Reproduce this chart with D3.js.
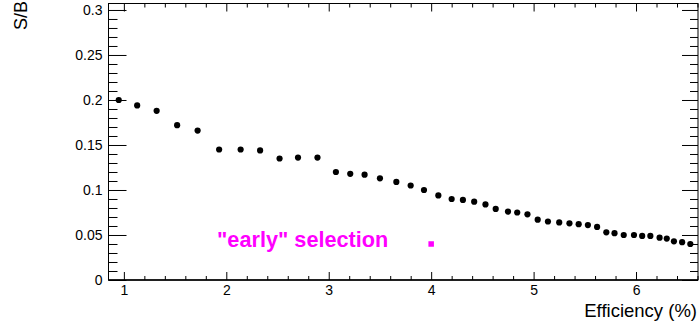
<!DOCTYPE html>
<html>
<head>
<meta charset="utf-8">
<script src="https://cdn.jsdelivr.net/npm/d3@7"></script>
<style>
  html, body { margin: 0; padding: 0; background: #fff; }
  svg { display: block; }
  text { font-family: "Liberation Sans", Arial, Helvetica, sans-serif; }
</style>
</head>
<body>
<svg id="chart" width="699" height="328"></svg>
<script>
// ---- data ----
const efficiency = [0.95, 1.13, 1.32, 1.52, 1.72, 1.93, 2.14, 2.33, 2.52, 2.70, 2.89,
  3.07, 3.21, 3.35, 3.50, 3.66, 3.80, 3.93, 4.07, 4.20, 4.31, 4.42, 4.53, 4.63, 4.75,
  4.84, 4.94, 5.04, 5.14, 5.25, 5.35, 5.44, 5.53, 5.62, 5.71, 5.79, 5.88, 5.98, 6.06,
  6.14, 6.23, 6.30, 6.37, 6.45, 6.53];
const sOverB = [0.200, 0.194, 0.188, 0.172, 0.166, 0.145, 0.145, 0.144, 0.135, 0.136, 0.136,
  0.120, 0.118, 0.117, 0.113, 0.109, 0.105, 0.100, 0.094, 0.090, 0.089, 0.087, 0.084, 0.079, 0.076,
  0.075, 0.073, 0.067, 0.065, 0.064, 0.063, 0.062, 0.061, 0.059, 0.053, 0.052, 0.050, 0.050, 0.049,
  0.049, 0.047, 0.046, 0.043, 0.042, 0.040];
const earlyEff = [4.0];
const earlySB = [0.040];
const earlyLabel = "\"early\" selection";
const earlyLabelPos = [1.91, 0.037];
const xTicks = [1, 2, 3, 4, 5, 6];
const yTicks = [0, 0.05, 0.1, 0.15, 0.2, 0.25, 0.3];
const yTickLabels = ["0", "0.05", "0.1", "0.15", "0.2", "0.25", "0.3"];
const xTitle = "Efficiency (%)";
const yTitle = "S/B";

// ---- layout ----
const L = 108.5, R = 698, T = 3.5, B = 280;
const svg = d3.select("#chart");

const x = d3.scaleLinear().domain([0.85, 6.605]).range([L, R]);
const y = d3.scaleLinear().domain([0, 0.3072]).range([B, T]);

const xMinor = d3.range(0.8, 6.7, 0.2).map(v => +v.toFixed(2))
  .filter(v => v >= 0.85 && v <= 6.605 && !xTicks.some(t => Math.abs(t - v) < 1e-6));
const yMinor = d3.range(0, 0.31, 0.01).map(v => +v.toFixed(3))
  .filter(v => !yTicks.some(t => Math.abs(t - v) < 1e-6));

function styleAxis(g) {
  g.select(".domain").remove();
  g.selectAll(".tick line").attr("stroke", "#000").attr("stroke-width", 1);
  g.selectAll(".tick text").attr("fill", "#000").style("font-size", "14px")
    .style("font-family", "\"Liberation Sans\", Arial, Helvetica, sans-serif");
}

// left axis
svg.append("g").attr("transform", `translate(${L},0)`)
  .call(d3.axisLeft(y).tickValues(yTicks).tickSize(-18).tickPadding(6)
    .tickFormat((d, i) => yTickLabels[i]))
  .call(styleAxis);
svg.append("g").attr("transform", `translate(${L},0)`)
  .call(d3.axisLeft(y).tickValues(yMinor).tickSize(-9).tickFormat(""))
  .call(styleAxis);
// right axis
svg.append("g").attr("transform", `translate(${R},0)`)
  .call(d3.axisRight(y).tickValues(yTicks).tickSize(-16).tickFormat(""))
  .call(styleAxis);
svg.append("g").attr("transform", `translate(${R},0)`)
  .call(d3.axisRight(y).tickValues(yMinor).tickSize(-8).tickFormat(""))
  .call(styleAxis);
// bottom axis
svg.append("g").attr("transform", `translate(0,${B})`)
  .call(d3.axisBottom(x).tickValues(xTicks).tickSize(-8).tickPadding(5).tickFormat(d3.format("d")))
  .call(styleAxis);
svg.append("g").attr("transform", `translate(0,${B})`)
  .call(d3.axisBottom(x).tickValues(xMinor).tickSize(-4).tickFormat(""))
  .call(styleAxis);
// top axis
svg.append("g").attr("transform", `translate(0,${T})`)
  .call(d3.axisTop(x).tickValues(xTicks).tickSize(-8).tickFormat(""))
  .call(styleAxis);
svg.append("g").attr("transform", `translate(0,${T})`)
  .call(d3.axisTop(x).tickValues(xMinor).tickSize(-4).tickFormat(""))
  .call(styleAxis);

// frame
svg.append("rect").attr("x", L).attr("y", T).attr("width", R - L).attr("height", B - T)
  .attr("fill", "none").attr("stroke", "#000").attr("stroke-width", 1);
svg.append("line").attr("x1", L).attr("x2", R).attr("y1", B).attr("y2", B)
  .attr("stroke", "#000").attr("stroke-width", 1.6);

// points
svg.append("g").selectAll("circle")
  .data(efficiency.map((e, i) => [e, sOverB[i]]))
  .join("circle")
  .attr("cx", d => x(d[0])).attr("cy", d => y(d[1])).attr("r", 3.1)
  .attr("fill", "#000");

// early selection marker
const sq = 5.5;
svg.append("g").selectAll("rect")
  .data(earlyEff.map((e, i) => [e, earlySB[i]]))
  .join("rect")
  .attr("x", d => x(d[0]) - sq / 2).attr("y", d => y(d[1]) - sq / 2)
  .attr("width", sq).attr("height", sq).attr("fill", "#ff00ff");

svg.append("text")
  .attr("x", x(earlyLabelPos[0])).attr("y", y(earlyLabelPos[1]))
  .attr("fill", "#ff00ff").style("font-size", "21.7px").style("font-weight", "bold")
  .text(earlyLabel);

// titles
svg.append("text").attr("x", R - 1).attr("y", 317).attr("text-anchor", "end")
  .style("font-size", "18.5px").attr("fill", "#000").text(xTitle);
svg.append("text").attr("transform", "translate(27,1) rotate(-90)").attr("text-anchor", "end")
  .style("font-size", "18px").attr("fill", "#000").text(yTitle);
</script>
</body>
</html>
